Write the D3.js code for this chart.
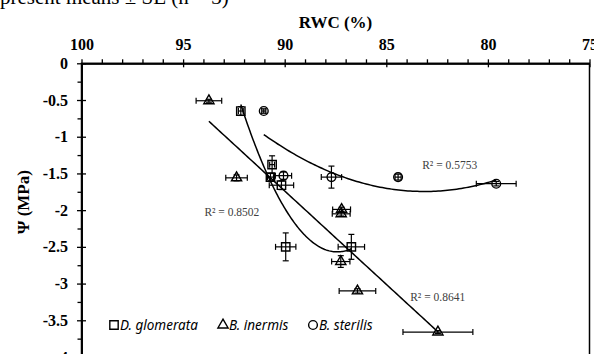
<!DOCTYPE html>
<html>
<head>
<meta charset="utf-8">
<script src="https://cdn.jsdelivr.net/npm/d3@7"></script>
<style>
  body { margin: 0; background: #fff; }
  svg { display: block; }
</style>
</head>
<body>
<div id="chart"></div>
<script>
// datos
const xTicks = [100, 95, 90, 85, 80, 75]
const yTicks = [0, -0.5, -1, -1.5, -2, -2.5, -3, -3.5, -4]

const glomerataRWC = [92.16, 90.62, 90.70, 90.16, 89.95, 86.72]
const glomerataPsi = [-0.65, -1.38, -1.55, -1.66, -2.50, -2.50]
const glomerataErrRWC = [0.12, 0.12, 0.15, 0.60, 0.50, 0.65]
const glomerataErrPsi = [0.06, 0.12, 0.05, 0.06, 0.19, 0.17]

const inermisRWC = [93.73, 92.37, 87.20, 87.22, 87.24, 86.42, 82.46]
const inermisPsi = [-0.51, -1.56, -1.99, -2.05, -2.70, -3.10, -3.66]
const inermisErrRWC = [0.63, 0.53, 0.44, 0.44, 0.45, 0.90, 1.72]
const inermisErrPsi = [0.02, 0.04, 0.03, 0.03, 0.08, 0.03, 0.02]

const sterilisRWC = [91.03, 90.06, 87.70, 84.42, 79.59]
const sterilisPsi = [-0.65, -1.53, -1.55, -1.55, -1.64]
const sterilisErrRWC = [0.10, 0.40, 0.50, 0.15, 0.98]
const sterilisErrPsi = [0.03, 0.05, 0.15, 0.04, 0.03]

const seriesNames = ["D. glomerata", "B. inermis", "B. sterilis"]
const r2Labels = ["R² = 0.8502", "R² = 0.8641", "R² = 0.5753"]
// posicion de las etiquetas R² en unidades de datos [RWC, Psi]
const r2RWC = [92.60, 82.47, 81.88]
const r2Psi = [-2.03, -3.18, -1.39]

// constantes
const width = 594
const height = 354
const margin = { top: 63.3, left: 81.5, right: 4.5 }
const plotBottom = 357
const serif = "'Liberation Serif', 'Times New Roman', serif"

const svg = d3.select("#chart").append("svg").attr("width", width).attr("height", height)
    .style("font-family", serif)

const x = d3.scaleLinear().domain([100, 75]).range([margin.left, width - margin.right])
const y = d3.scaleLinear().domain([0, -4]).range([margin.top, plotBottom])

// texto cortado de arriba
svg.append("text").attr("x", 0).attr("y", 4).attr("font-size", 21)
    .text("present means ± SE (n = 3)")

// borde del area
svg.append("rect").attr("x", x(100)).attr("y", y(0))
    .attr("width", x(75) - x(100)).attr("height", y(-4) - y(0))
    .attr("fill", "none").attr("stroke", "#000").attr("stroke-width", 1.5)

// ejes
const xMinor = d3.range(99, 75, -1).filter(d => d % 5 !== 0)
const yMinor = d3.range(-0.25, -4, -0.5)

const axisGroup = svg.append("g").attr("id", "axisGroup")
const xAxisGroup = axisGroup.append("g").attr("transform", `translate(0, ${y(0)})`)
const yAxisGroup = axisGroup.append("g").attr("transform", `translate(${x(100)}, 0)`)

xAxisGroup.append("g").call(d3.axisTop(x).tickValues(xMinor).tickSize(4).tickSizeOuter(0).tickFormat(""))
xAxisGroup.append("g").call(d3.axisTop(x).tickValues(xTicks).tickSize(-4).tickSizeOuter(0).tickFormat(""))
xAxisGroup.append("g").call(d3.axisTop(x).tickValues(xTicks).tickSize(4).tickSizeOuter(0).tickPadding(9).tickFormat(d => d))

yAxisGroup.append("g").call(d3.axisLeft(y).tickValues(yMinor).tickSize(4).tickSizeOuter(0).tickFormat(""))
yAxisGroup.append("g").call(d3.axisLeft(y).tickValues(yTicks).tickSize(-4.5).tickSizeOuter(0).tickFormat(""))
yAxisGroup.append("g").call(d3.axisLeft(y).tickValues(yTicks).tickSize(4.5).tickSizeOuter(0).tickPadding(9).tickFormat(d => String(d)))

axisGroup.selectAll("g").attr("font-family", serif)
axisGroup.selectAll("path.domain").attr("stroke", "#000").attr("stroke-width", 1.5)
axisGroup.selectAll(".tick line").attr("stroke", "#000").attr("stroke-width", 1.3)
axisGroup.selectAll(".tick text")
    .attr("fill", "#000").style("font-size", "16px").style("font-weight", "bold")
    .style("font-family", serif)

// titulos
svg.append("text").attr("x", (x(100) + x(75)) / 2).attr("y", 28)
    .attr("text-anchor", "middle").attr("font-size", 17).attr("font-weight", "bold")
    .text("RWC (%)")
svg.append("text").attr("transform", `translate(29, 202) rotate(-90)`)
    .attr("text-anchor", "middle").attr("font-size", 17).attr("font-weight", "bold")
    .text("Ψ (MPa)")

// ajuste por minimos cuadrados (polinomio de grado n)
function polyFit(xs, ys, deg) {
    const n = deg + 1
    const A = d3.range(n).map(i => d3.range(n + 1).map(() => 0))
    xs.forEach((xv, k) => {
        for (let i = 0; i < n; i++) {
            for (let j = 0; j < n; j++) A[i][j] += Math.pow(xv, i + j)
            A[i][n] += ys[k] * Math.pow(xv, i)
        }
    })
    for (let i = 0; i < n; i++) {
        let p = i
        for (let r = i + 1; r < n; r++) if (Math.abs(A[r][i]) > Math.abs(A[p][i])) p = r
        ;[A[i], A[p]] = [A[p], A[i]]
        for (let r = 0; r < n; r++) {
            if (r === i) continue
            const f = A[r][i] / A[i][i]
            for (let c = i; c <= n; c++) A[r][c] -= f * A[i][c]
        }
    }
    const coef = A.map((row, i) => row[n] / row[i])
    return xv => coef.reduce((s, c, i) => s + c * Math.pow(xv, i), 0)
}

const series = [
    { rwc: glomerataRWC, psi: glomerataPsi, eX: glomerataErrRWC, eY: glomerataErrPsi, symbol: d3.symbolSquare, size: 70, deg: 2 },
    { rwc: inermisRWC, psi: inermisPsi, eX: inermisErrRWC, eY: inermisErrPsi, symbol: d3.symbolTriangle, size: 45, deg: 1 },
    { rwc: sterilisRWC, psi: sterilisPsi, eX: sterilisErrRWC, eY: sterilisErrPsi, symbol: d3.symbolCircle, size: 60, deg: 2 }
]

const elementGroup = svg.append("g").attr("id", "elementGroup")
const cap = 3

// lineas de tendencia
const line = d3.line().x(d => x(d[0])).y(d => y(d[1]))
series.forEach(s => {
    const u0 = d3.mean(s.rwc)
    const f = polyFit(s.rwc.map(v => v - u0), s.psi, s.deg)
    const [lo, hi] = d3.extent(s.rwc)
    const pts = d3.range(0, 101).map(i => {
        const xv = lo + (hi - lo) * i / 100
        return [xv, f(xv - u0)]
    })
    elementGroup.append("path").datum(pts).attr("d", line)
        .attr("fill", "none").attr("stroke", "#000").attr("stroke-width", 1.5)
})

// barras de error y marcadores
series.forEach(s => {
    const data = s.rwc.map((v, i) => ({ rwc: v, psi: s.psi[i], ex: s.eX[i], ey: s.eY[i] }))
    const g = elementGroup.append("g").attr("stroke", "#000").attr("stroke-width", 1.2).attr("fill", "none")
    const eb = g.selectAll("g.err").data(data).join("g").attr("class", "err")
    eb.append("line")
        .attr("x1", d => x(d.rwc - d.ex)).attr("x2", d => x(d.rwc + d.ex))
        .attr("y1", d => y(d.psi)).attr("y2", d => y(d.psi))
    eb.append("line")
        .attr("x1", d => x(d.rwc - d.ex)).attr("x2", d => x(d.rwc - d.ex))
        .attr("y1", d => y(d.psi) - cap).attr("y2", d => y(d.psi) + cap)
    eb.append("line")
        .attr("x1", d => x(d.rwc + d.ex)).attr("x2", d => x(d.rwc + d.ex))
        .attr("y1", d => y(d.psi) - cap).attr("y2", d => y(d.psi) + cap)
    eb.append("line")
        .attr("x1", d => x(d.rwc)).attr("x2", d => x(d.rwc))
        .attr("y1", d => y(d.psi - d.ey)).attr("y2", d => y(d.psi + d.ey))
    eb.append("line")
        .attr("x1", d => x(d.rwc) - cap).attr("x2", d => x(d.rwc) + cap)
        .attr("y1", d => y(d.psi - d.ey)).attr("y2", d => y(d.psi - d.ey))
    eb.append("line")
        .attr("x1", d => x(d.rwc) - cap).attr("x2", d => x(d.rwc) + cap)
        .attr("y1", d => y(d.psi + d.ey)).attr("y2", d => y(d.psi + d.ey))
    g.selectAll("path.mark").data(data).join("path").attr("class", "mark")
        .attr("d", d3.symbol().type(s.symbol).size(s.size))
        .attr("transform", d => `translate(${x(d.rwc)}, ${y(d.psi)})`)
        .attr("stroke-width", 1.4)
})

// etiquetas R²
svg.append("g").selectAll("text").data(r2Labels).join("text")
    .attr("x", (d, i) => x(r2RWC[i])).attr("y", (d, i) => y(r2Psi[i]))
    .attr("dy", "0.35em").attr("text-anchor", "middle")
    .attr("font-size", 11.5).attr("fill", "#404040")
    .text(d => d)

// leyenda
const legendX = [114, 223, 313]
const legend = svg.append("g").attr("transform", "translate(0, 325)")
const li = legend.selectAll("g").data(seriesNames).join("g")
    .attr("transform", (d, i) => `translate(${legendX[i]}, 0)`)
li.append("path").attr("d", (d, i) => d3.symbol().type(series[i].symbol).size(series[i].size)())
    .attr("fill", "none").attr("stroke", "#000").attr("stroke-width", 1.4)
li.append("text").attr("x", 6).attr("dy", "0.35em")
    .attr("font-family", "'Noto Sans', 'Open Sans', sans-serif").attr("font-style", "italic").attr("font-size", 13.5)
    .text(d => d)
</script>
</body>
</html>
